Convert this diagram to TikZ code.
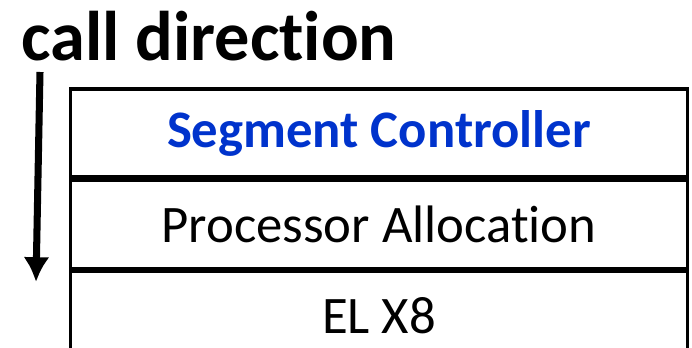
\documentclass[tikz,border=0pt]{standalone}
\usepackage{fontspec}
\setmainfont[Ligatures=NoCommon]{Carlito}
\usetikzlibrary{arrows.meta,positioning}
\definecolor{ctrlblue}{RGB}{0,51,204}

\begin{document}
\begin{tikzpicture}[x=0.025cm,y=-0.025cm,
  layerbox/.style={draw=black,line width=2.2pt,minimum width=15.4cm,minimum height=2.2cm,inner sep=0pt,font=\fontsize{37.5}{42}\selectfont}]
\useasboundingbox (0,0) rectangle (692,348);
\node[anchor=base west,inner sep=0pt,font=\fontsize{50}{56}\selectfont\bfseries] (title) at (21,61) {call direction};
\node[layerbox,font=\fontsize{37.5}{42}\selectfont\bfseries,text=ctrlblue] (seg) at (379,133) {Segment Controller};
\node[layerbox,below=0pt of seg] (alloc) {Processor Allocation};
\node[layerbox,below=0pt of alloc] (elx) {EL X8};
\coordinate (dirtop) at (40,72);
\coordinate (dirtip) at (36,282);
\draw[line width=5pt,-{Latex[length=0.62cm,width=0.65cm]}] (dirtop)--(dirtip);
\end{tikzpicture}
\end{document}
